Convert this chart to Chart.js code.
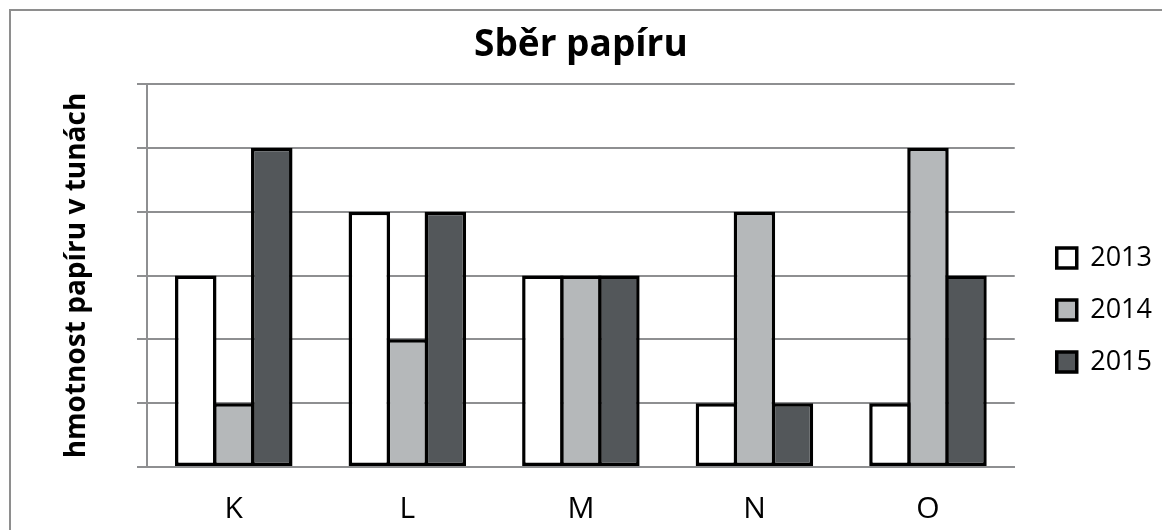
<!DOCTYPE html>
<html>
<head>
<meta charset="utf-8">
<script src="https://cdn.jsdelivr.net/npm/chart.js@4.4.1/dist/chart.umd.min.js"></script>
<style>
  html, body { margin: 0; padding: 0; background: #fff; overflow: hidden; }
  #marco { position: absolute; left: 9px; top: 9px; width: 1200px; height: 600px;
           border-left: 2px solid #8e8e8e; border-top: 2px solid #8e8e8e; }
  #grafico { position: absolute; left: 0; top: 0; }
</style>
</head>
<body>
<div id="marco"></div>
<canvas id="grafico" width="1162" height="530"></canvas>
<script>
const categorias = ['K', 'L', 'M', 'N', 'O'];
const anos = ['2013', '2014', '2015'];
const valores2013 = [3, 4, 3, 1, 1];
const valores2014 = [1, 2, 3, 4, 5];
const valores2015 = [5, 4, 3, 1, 3];
const ejeYMin = 0;
const ejeYMax = 6;
const ejeYPaso = 1;

const colores = ['#ffffff', '#b5b8ba', '#53575a'];
const gris = '#8e8f91';
const fuente = "'Open Sans', 'Noto Sans', sans-serif";

function serie(etiqueta, datos, color) {
    return {
        label: etiqueta,
        data: datos,
        backgroundColor: color,
        borderColor: '#000000',
        borderWidth: 3.5,
        borderSkipped: false,
        categoryPercentage: 0.657,
        barPercentage: 1.092
    };
}

const data = {
    labels: categorias,
    datasets: [
        serie(anos[0], valores2013, colores[0]),
        serie(anos[1], valores2014, colores[1]),
        serie(anos[2], valores2015, colores[2])
    ]
};

const config = {
    type: 'bar',
    data: data,
    options: {
        responsive: false,
        animation: false,
        layout: {padding: {top: 10, left: 50, right: 0, bottom: 0}},
        plugins: {
            title: {
                display: true,
                text: 'Sběr papíru',
                color: '#000',
                fullSize: false,
                font: {family: fuente, size: 37, weight: 'bold', lineHeight: 1.2},
                padding: {top: 12.8, bottom: 16.8}
            },
            legend: {
                position: 'right',
                align: 'center',
                title: {display: true, text: '', padding: {top: 0, bottom: 65.6}},
                labels: {
                    color: '#000',
                    font: {family: fuente, size: 27},
                    boxWidth: 20,
                    boxHeight: 20,
                    padding: 25
                }
            },
            tooltip: {enabled: false}
        },
        scales: {
            x: {
                grid: {display: false},
                border: {display: true, color: gris, width: 2},
                ticks: {color: '#000', font: {family: fuente, size: 30}, padding: 16},
                afterFit: s => { s.height = 63; }
            },
            y: {
                min: ejeYMin,
                max: ejeYMax,
                ticks: {display: false, stepSize: ejeYPaso},
                grid: {color: gris, lineWidth: 2, drawTicks: true, tickLength: 10},
                border: {display: true, color: gris, width: 2},
                title: {
                    display: true,
                    text: 'hmotnost papíru v tunách',
                    color: '#000',
                    font: {family: fuente, size: 28, weight: 'bold', lineHeight: 1.2},
                    padding: {top: 10, bottom: 0}
                },
                afterFit: s => { s.width = 97; }
            },
            hueco: {
                position: 'right',
                display: true,
                grid: {display: false},
                border: {display: false},
                ticks: {display: false},
                afterFit: s => { s.width = 17; }
            }
        }
    }
};

new Chart(document.getElementById('grafico').getContext('2d'), config);
</script>
</body>
</html>
